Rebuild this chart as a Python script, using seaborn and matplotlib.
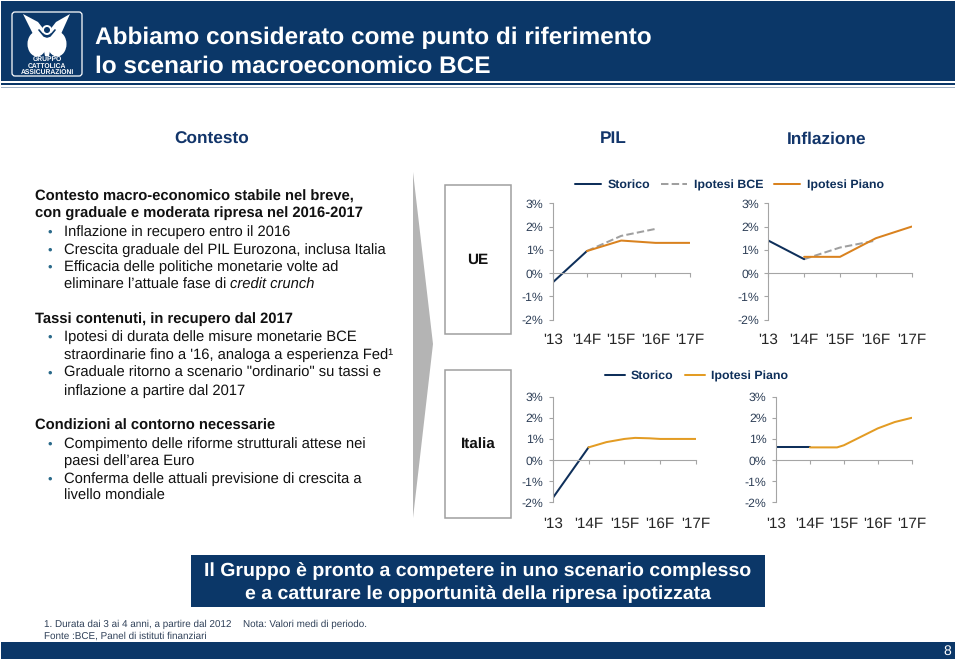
import numpy as np
import pandas as pd
import matplotlib
matplotlib.use('Agg')
import matplotlib.pyplot as plt
from matplotlib.patches import Rectangle, Polygon, Ellipse, FancyBboxPatch
import seaborn as sns

W, H = 960, 664
NAVY = '#0b3768'
DARK = '#0e2f5a'
GREY = '#9f9f9f'
ORANGE = '#d9821f'
AMBER = '#e39c24'
BLUE_HEAD = '#12356a'
TICK = '#2f4058'

anni = ["'13", "'14F", "'15F", "'16F", "'17F"]
pct_ticks = [3, 2, 1, 0, -1, -2]
pct_labels = ['3%', '2%', '1%', '0%', '-1%', '-2%']

ue_pil_x_storico = [0, 1]
ue_pil_storico = [-0.4, 0.95]
ue_pil_x_bce = [1, 2, 3]
ue_pil_bce = [0.95, 1.6, 1.9]
ue_pil_x_piano = [1, 2, 3, 4]
ue_pil_piano = [0.95, 1.4, 1.3, 1.3]

ue_inf_x_storico = [0, 1]
ue_inf_storico = [1.4, 0.6]
ue_inf_x_bce = [1, 2, 3]
ue_inf_bce = [0.6, 1.1, 1.4]
ue_inf_x_piano = [1, 2, 3, 4]
ue_inf_piano = [0.7, 0.7, 1.5, 2.0]

it_pil_x_storico = [0, 1]
it_pil_storico = [-1.8, 0.6]
it_pil_x_piano = [1, 1.5, 2, 2.3, 2.7, 3, 4]
it_pil_piano = [0.6, 0.85, 1.0, 1.05, 1.03, 1.0, 1.0]

it_inf_x_storico = [0, 1]
it_inf_storico = [0.6, 0.6]
it_inf_x_piano = [1, 1.8, 2, 2.5, 3, 3.5, 4]
it_inf_piano = [0.6, 0.6, 0.7, 1.1, 1.5, 1.8, 2.0]

testo_sx = [
    (35, 196, 'Contesto macro-economico stabile nel breve,', 'bold', False),
    (35, 213, 'con graduale e moderata ripresa nel 2016-2017', 'bold', False),
    (64, 231, 'Inflazione in recupero entro il 2016', 'normal', True),
    (64, 249, 'Crescita graduale del PIL Eurozona, inclusa Italia', 'normal', True),
    (64, 266, 'Efficacia delle politiche monetarie volte ad', 'normal', True),
    (64, 284, 'eliminare l’attuale fase di ', 'normal', False),
    (35, 318, 'Tassi contenuti, in recupero dal 2017', 'bold', False),
    (64, 336, 'Ipotesi di durata delle misure monetarie BCE', 'normal', True),
    (64, 354, "straordinarie fino a '16, analoga a esperienza Fed¹", 'normal', False),
    (64, 372, 'Graduale ritorno a scenario "ordinario" su tassi e', 'normal', True),
    (64, 390, 'inflazione a partire dal 2017', 'normal', False),
    (35, 425, 'Condizioni al contorno necessarie', 'bold', False),
    (64, 443, 'Compimento delle riforme strutturali attese nei', 'normal', True),
    (64, 460, 'paesi dell’area Euro', 'normal', False),
    (64, 478, 'Conferma delle attuali previsione di crescita a', 'normal', True),
    (64, 495, 'livello mondiale', 'normal', False),
]

sns.set_theme(style='white')
plt.rcParams['font.family'] = ['Liberation Sans', 'DejaVu Sans']
plt.rcParams['text.hinting'] = 'no_hinting'

fig = plt.figure(figsize=(W / 100, H / 100), dpi=100, facecolor='white')

# fondo in coordinate pixel
bg = fig.add_axes([0, 0, 1, 1])
bg.set_xlim(0, W)
bg.set_ylim(H, 0)
bg.axis('off')


def px(size):
    return size * 0.72


# testata
bg.add_patch(Rectangle((1, 1), 954, 79.5, color=NAVY, lw=0))
bg.add_patch(Rectangle((1, 82.5), 954, 2.5, color=NAVY, lw=0))
bg.add_patch(Rectangle((1, 86.5), 954, 1.2, color='#9fb0c4', lw=0))
bg.text(95, 38, 'Abbiamo considerato come punto di riferimento', color='white', fontsize=px(24.4), va='center', weight='bold')
bg.text(95, 67, 'lo scenario macroeconomico BCE', color='white', fontsize=px(24.4), va='center', weight='bold')

# logo
bg.add_patch(FancyBboxPatch((12, 12), 70, 64, boxstyle='round,pad=0,rounding_size=3', fc='none', ec='white', lw=0.9))
bg.add_patch(Polygon([(23, 14), (38, 22), (45, 31), (38, 37), (33, 34)], color='white', lw=0))
bg.add_patch(Polygon([(70, 14), (56, 22), (49, 31), (56, 37), (61, 34)], color='white', lw=0))
bg.add_patch(Ellipse((37, 44), 19, 25, color='white', lw=0))
bg.add_patch(Ellipse((57, 44), 19, 25, color='white', lw=0))
bg.add_patch(Polygon([(41, 36), (53, 36), (49, 56), (45, 56)], color='white', lw=0))
bg.plot([39, 44, 47, 50, 55], [30, 36, 37, 36, 30], color=NAVY, lw=1.2)
bg.add_patch(Ellipse((47, 30), 8, 8, fc=NAVY, ec='white', lw=1.4))
for yy, s in [(59.5, 'GRUPPO'), (66, 'CATTOLICA'), (72.5, 'ASSICURAZIONI')]:
    bg.text(47, yy, s, color='white', fontsize=px(6.8), ha='center', va='center', weight='bold')

# intestazioni colonne
for xx, s in [(212, 'Contesto'), (613, 'PIL'), (827, 'Inflazione')]:
    bg.text(xx, 139, s, color=BLUE_HEAD, fontsize=px(17.3), ha='center', va='center', weight='bold')

# testo a sinistra
for xx, yy, s, peso, bullet in testo_sx:
    t = bg.text(xx, yy + 1, s, color='#111111', fontsize=px(14.7), va='center', weight=peso)
    if bullet:
        bg.text(47.5, yy + 1, '•', color='#2a6a8a', fontsize=px(13), va='center')
    if s.startswith('eliminare'):
        bg.annotate('credit crunch', xy=(1, 0), xycoords=t, va='bottom', color='#111111', fontsize=px(14.7), style='italic')

# freccia e riquadri
bg.add_patch(Polygon([(413, 172), (413, 518), (433, 344)], color='#b4b4b4', lw=0))
bg.add_patch(Rectangle((445, 184.5), 66, 149, fc='none', ec=GREY, lw=1.1))
bg.add_patch(Rectangle((445, 370), 66, 148, fc='none', ec=GREY, lw=1.1))
bg.text(478, 260, 'UE', fontsize=px(15.3), ha='center', va='center', weight='bold', color='#111111')
bg.text(478, 445, 'Italia', fontsize=px(15.3), ha='center', va='center', weight='bold', color='#111111')

# banner
bg.add_patch(Rectangle((191, 555), 574, 52, color=NAVY, lw=0))
bg.text(478, 571, 'Il Gruppo è pronto a competere in uno scenario complesso', color='white', fontsize=px(19.5), ha='center', va='center', weight='bold')
bg.text(478, 594, 'e a catturare le opportunità della ripresa ipotizzata', color='white', fontsize=px(19.5), ha='center', va='center', weight='bold')

# piede
bg.text(44, 624.5, '1. Durata dai 3 ai 4 anni, a partire dal 2012', color=TICK, fontsize=px(9.9), va='center')
bg.text(243, 624.5, 'Nota: Valori medi di periodo.', color=TICK, fontsize=px(9.9), va='center')
bg.text(44, 636, 'Fonte :BCE, Panel di istituti finanziari', color=TICK, fontsize=px(9.9), va='center')
bg.add_patch(Rectangle((1, 642), 954, 17, color=NAVY, lw=0))
bg.text(947, 651.5, '8', color='white', fontsize=px(14), ha='center', va='center')


def grafico(left, right, top, bottom, serie, pad_px):
    ax = fig.add_axes([left / W, 1 - bottom / H, (right - left) / W, (bottom - top) / H])
    ax.patch.set_alpha(0)
    for xs, ys, nome, col, dash in serie:
        df = pd.DataFrame({'anno': xs, 'valore': ys})
        sns.lineplot(data=df, x='anno', y='valore', ax=ax, color=col, linewidth=1.45, label=nome, errorbar=None,
                     linestyle='--' if dash else '-', dashes=(7.5, 4) if dash else None)
    ax.set_xlim(0, 4)
    ax.set_ylim(-2, 3)
    ax.set_xlabel('')
    ax.set_ylabel('')
    ax.set_yticks(pct_ticks)
    ax.set_yticklabels(pct_labels, color=TICK, fontsize=px(12.2))
    ax.set_xticks(range(5))
    ax.set_xticklabels(anni, color=TICK, fontsize=px(12.2))
    for s in ['top', 'right']:
        ax.spines[s].set_visible(False)
    ax.spines['bottom'].set_position(('data', 0))
    ax.spines['bottom'].set_color('#a5a5a5')
    ax.spines['left'].set_color('#a5a5a5')
    ax.spines['bottom'].set_linewidth(0.8)
    ax.spines['left'].set_linewidth(0.8)
    ax.tick_params(axis='y', left=True, length=2.7, width=0.8, color='#a5a5a5', pad=4)
    ax.tick_params(axis='x', bottom=True, direction='out', length=2.9, width=0.8, color='#a5a5a5', pad=px(pad_px))
    ax.get_legend().remove()
    return ax


ax1 = grafico(552.7, 689.7, 203.3, 319.7, [
    (ue_pil_x_bce, ue_pil_bce, 'Ipotesi BCE', GREY, True),
    (ue_pil_x_storico, ue_pil_storico, 'Storico', DARK, False),
    (ue_pil_x_piano, ue_pil_piano, 'Ipotesi Piano', ORANGE, False)], 56)
ax2 = grafico(768.3, 911.7, 203.3, 319.7, [
    (ue_inf_x_bce, ue_inf_bce, 'Ipotesi BCE', GREY, True),
    (ue_inf_x_storico, ue_inf_storico, 'Storico', DARK, False),
    (ue_inf_x_piano, ue_inf_piano, 'Ipotesi Piano', ORANGE, False)], 56)
ax3 = grafico(552.7, 696, 396.7, 502.3, [
    (it_pil_x_storico, it_pil_storico, 'Storico', DARK, False),
    (it_pil_x_piano, it_pil_piano, 'Ipotesi Piano', AMBER, False)], 53)
ax4 = grafico(776, 911.7, 396.7, 502.3, [
    (it_inf_x_storico, it_inf_storico, 'Storico', DARK, False),
    (it_inf_x_piano, it_inf_piano, 'Ipotesi Piano', AMBER, False)], 53)

# legende
h, l = ax1.get_legend_handles_labels()
ordine = [1, 0, 2]
fig.legend([h[i] for i in ordine], [l[i] for i in ordine], ncol=3, frameon=False, loc='center',
           bbox_to_anchor=(729.5 / W, 1 - 185 / H), labelcolor=DARK, prop={'weight': 'bold', 'size': px(12.4)},
           handlelength=2.1, columnspacing=0.9, handletextpad=0.5)
h, l = ax3.get_legend_handles_labels()
fig.legend(h, l, ncol=2, frameon=False, loc='center', bbox_to_anchor=(696.5 / W, 1 - 376 / H),
           labelcolor=DARK, prop={'weight': 'bold', 'size': px(12.4)}, handlelength=1.6, columnspacing=0.9, handletextpad=0.5)

fig.savefig('out.png', dpi=100)
